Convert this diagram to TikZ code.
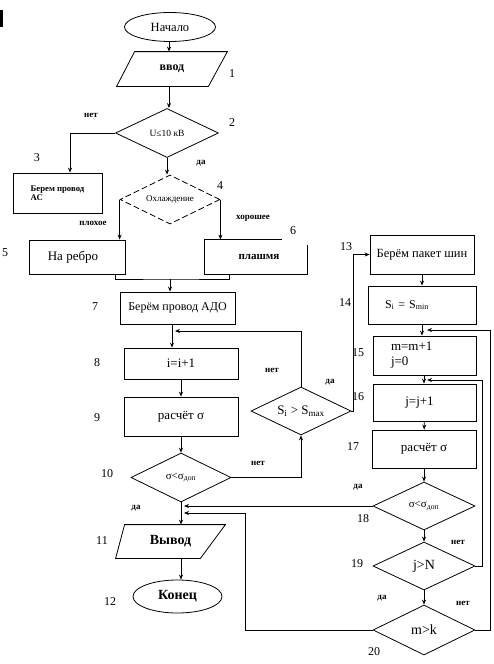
\documentclass[tikz,border=0pt]{standalone}
\usepackage{fontspec}
\setmainfont{Liberation Serif}
\usetikzlibrary{arrows.meta,shapes.geometric}

\begin{document}
\begin{tikzpicture}[x=1pt,y=-1pt,>={Stealth[length=5pt,width=4pt]},line width=0.8pt,
box/.style={draw, rectangle, inner sep=1pt, font=\fontsize{12}{13}\selectfont},
term/.style={draw, ellipse, inner sep=0pt},
io/.style={rectangle, inner sep=0pt},
cond/.style={draw, diamond, shape aspect=2.1, inner sep=0pt, minimum width=102pt, minimum height=48pt, font=\fontsize{11}{12}\selectfont},
num/.style={font=\fontsize{12}{13}\selectfont},
yesno/.style={font=\bfseries\fontsize{9}{10}\selectfont}]
\useasboundingbox (0,0) rectangle (494,664);
\fill (0,10) rectangle (2.5,27);
% left column
\node[term, minimum width=91pt, minimum height=29pt, font=\fontsize{12.5}{13}\selectfont] (start) at (170,27) {Начало};
\node[io, minimum width=110pt, minimum height=34pt, font=\bfseries\fontsize{12}{13}\selectfont] (vvod) at (172,69) {ввод};
\draw ([xshift=18pt]vvod.north west) -- (vvod.north east) -- ([xshift=-19pt]vvod.south east) -- (vvod.south west) -- cycle;
\node[cond, minimum width=103pt, minimum height=49pt, font=\fontsize{9.5}{10}\selectfont] (d2) at (167,133) {U≤10 кВ};
\node[box, minimum width=89pt, minimum height=40pt, align=left, font=\bfseries\fontsize{8.7}{9}\selectfont] (b3) at (57.5,193) {Берем провод\\ АС};
\node[cond, dashed, dash pattern=on 6pt off 3pt, minimum width=100pt, minimum height=49pt, font=\fontsize{9}{10}\selectfont] (d4) at (170,199.5) {Охлаждение};
\node[box, minimum width=96pt, minimum height=34pt, font=\fontsize{13}{14}\selectfont] (b5) at (77,257) {На ребро\hspace*{8pt}};
\node[box, draw=none, minimum width=102pt, minimum height=34pt, font=\bfseries\fontsize{11}{12}\selectfont] (b6) at (256,257) {\hspace*{6pt}плашмя};
\draw ([xshift=-25pt]b6.north east) -- (b6.north west) -- (b6.south west) -- (b6.south east) -- ([yshift=-5pt]b6.north east);
\node[box, minimum width=115pt, minimum height=32pt] (b7) at (177.5,308) {Берём провод АДО};
\node[box, minimum width=114pt, minimum height=31pt, font=\fontsize{13}{14}\selectfont] (b8) at (181,363.5) {i=i+1};
\node[box, minimum width=114pt, minimum height=39pt, font=\fontsize{13}{14}\selectfont] (b9) at (181,416.5) {расчёт σ};
\node[cond, minimum width=100pt, minimum height=49pt] (d10) at (181,477.5) {σ<σ\textsubscript{доп}};
\node[io, minimum width=109pt, minimum height=33pt, font=\bfseries\fontsize{14}{15}\selectfont] (out) at (170.5,541.5) {Вывод};
\draw ([xshift=9pt]out.north west) -- (out.north east) -- ([xshift=-25pt]out.south east) -- (out.south west) -- cycle;
\node[term, minimum width=89pt, minimum height=33pt, font=\bfseries\fontsize{14}{15}\selectfont] (stop) at (177.5,596.5) {Конец};
% right column
\node[cond, minimum width=100pt, minimum height=48pt, font=\fontsize{13}{14}\selectfont] (dS) at (301,411) {S\textsubscript{i} > S\textsubscript{max}};
\node[box, minimum width=104pt, minimum height=39pt, font=\fontsize{12.5}{13}\selectfont] (b13) at (422,254.5) {Берём пакет шин};
\node[box, minimum width=108pt, minimum height=38pt, text width=74pt, inner xsep=17pt, align=left] (b14) at (422,305) {\raisebox{-3pt}{S\textsubscript{i} = S\textsubscript{min}}};
\node[box, minimum width=103pt, minimum height=39pt, text width=67pt, inner xsep=18pt, align=left, font=\fontsize{13}{15}\selectfont] (b15) at (424.5,355.5) {m=m+1\\ j=0};
\node[box, minimum width=103pt, minimum height=37pt, font=\fontsize{13}{14}\selectfont] (b16) at (424.5,402.5) {j=j+1\hspace*{10pt}};
\node[box, minimum width=104pt, minimum height=38pt, font=\fontsize{13}{14}\selectfont] (b17) at (424,449) {расчёт σ};
\node[cond] (d18) at (424,506) {σ<σ\textsubscript{доп}};
\node[cond, font=\fontsize{14}{15}\selectfont] (d19) at (424,566) {j>N};
\node[cond, minimum height=50pt, font=\fontsize{14}{15}\selectfont] (d20) at (424,630) {m>k};
% junctions
\coordinate (merge) at (170,279); \coordinate (j8) at (172,331);
\coordinate (j11a) at (181,506); \coordinate (j11b) at (181,513); \coordinate (k20) at (245,513);
\coordinate (j15) at (424,330); \coordinate (j16) at (424,380);
\coordinate (r20) at (490,630); \coordinate (r19) at (482,566);
% connectors
\draw[->] (start.south -| 169,0) -- (vvod.north -| 169,0);
\draw[->] (vvod.south -| 169,0) -- (d2.north -| 169,0);
\draw[->] (d2.west) -| ([xshift=12.5pt]b3.north);
\draw[->] (d2.south) -- (d2.south |- d4.north);
\draw[->] (d4.west) -- (d4.west |- b5.north);
\draw[->] (d4.east) -- (d4.east |- b6.north);
\draw ([xshift=38pt]b5.south) |- (merge) -| ([xshift=-27pt]b6.south);
\draw[->] (merge) -- (merge |- b7.north);
\draw[->] (b7.south -| j8) -- (j8 |- b8.north);
\draw[->] (b8) -- (b9);
\draw[->] (b9) -- (d10);
\draw[->] (d10.south) -- (d10.south |- out.north);
\draw[->] (out.south -| d10.south) -- (stop.north -| d10.south);
\draw[->] (dS.north) |- ([xshift=3pt]j8);
\draw[->] (d10.east) -| (dS.south);
\draw[->] (dS.east) -- ++(1.5,0) |- (b13.west);
\draw[->] (b13.south) -- (b13.south |- b14.north);
\draw[->] (b14.south) -- (b14.south |- b15.north);
\draw[->] (b15.south -| j16) -- (j16 |- b16.north);
\draw[->] (b16) -- (b17);
\draw[->] (b17) -- (d18);
\draw[->] (d18) -- (d19);
\draw[->] (d19) -- (d20);
\draw[->] (d18.west) -- ([xshift=3pt]j11a);
\draw[->] (d20.west) -| (k20) -- ([xshift=3pt]j11b);
\draw[->] (d19.east) -- (r19) |- ([xshift=3pt]j16);
\draw[->] (d20.east) -- (r20) |- ([xshift=3pt]j15);
% labels
\node[num] (n1) at (232,74) {1}; \node[num] (n2) at (232,123) {2}; \node[num] (n3) at (37,158) {3};
\node[num] (n4) at (220,186) {4}; \node[num] (n5) at (5,253) {5}; \node[num] (n6) at (293,231) {6};
\node[num] (n7) at (95,307) {7}; \node[num] (n8) at (97,363) {8}; \node[num] (n9) at (97,418) {9};
\node[num] (n10) at (107,474) {10}; \node[num] (n11) at (102,541) {11}; \node[num] (n12) at (110,602) {12};
\node[num] (n13) at (346,247) {13}; \node[num] (n14) at (345,303) {14}; \node[num] (n15) at (358,353) {15};
\node[num] (n16) at (358,397) {16}; \node[num] (n17) at (353,447) {17}; \node[num] (n18) at (363,519) {18};
\node[num] (n19) at (357,564) {19}; \node[num] (n20) at (374,652) {20};
\node[yesno] (t2no) at (91,115) {нет}; \node[yesno] (t2yes) at (201,163) {да};
\node[yesno] (t4bad) at (93,223) {плохое}; \node[yesno] (t4good) at (253,218) {хорошее};
\node[yesno] (tSno) at (272,370) {нет}; \node[yesno] (tSyes) at (330,382) {да};
\node[yesno] (t10no) at (258,463) {нет}; \node[yesno] (t10yes) at (136,508) {да};
\node[yesno] (t18yes) at (358,487) {да}; \node[yesno] (t19no) at (458,542) {нет};
\node[yesno] (t19yes) at (382,598) {да}; \node[yesno] (t20no) at (463,603) {нет};
\end{tikzpicture}
\end{document}
